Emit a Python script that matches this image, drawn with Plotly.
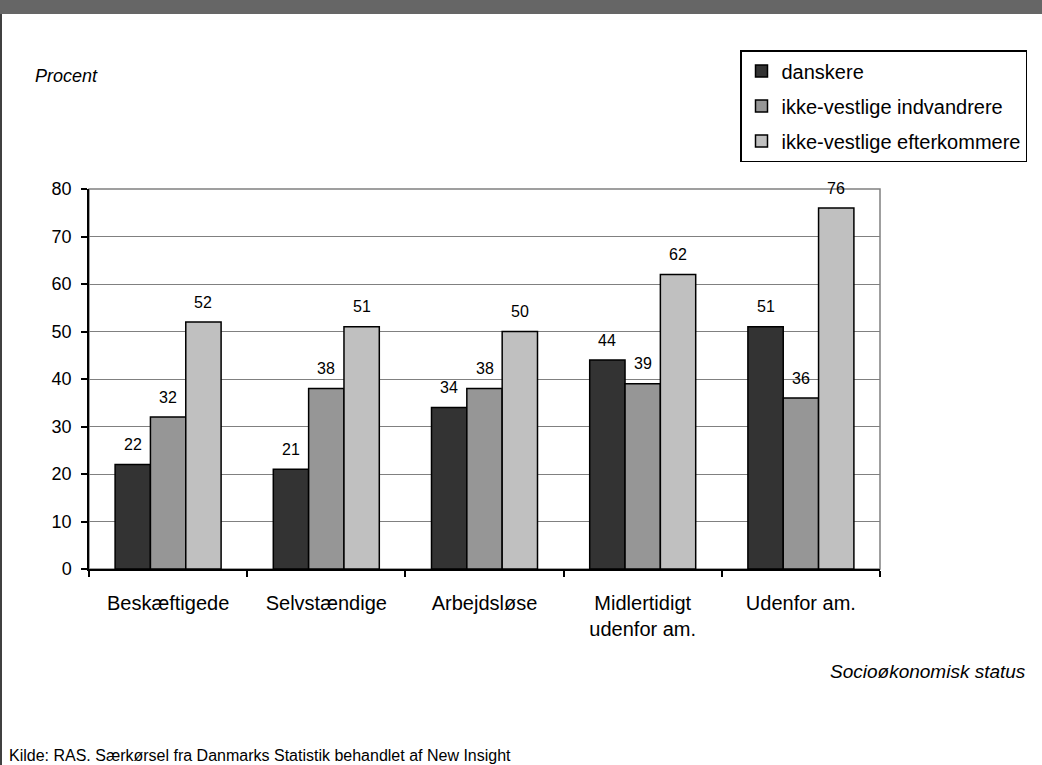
import plotly.graph_objects as go

categories = ["Beskæftigede", "Selvstændige", "Arbejdsløse", "Midlertidigt<br>udenfor am.", "Udenfor am."]
series_names = ["danskere", "ikke-vestlige indvandrere", "ikke-vestlige efterkommere"]
danskere = [22, 21, 34, 44, 51]
indvandrere = [32, 38, 38, 39, 36]
efterkommere = [52, 51, 50, 62, 76]
y_ticks = [0, 10, 20, 30, 40, 50, 60, 70, 80]

values = [danskere, indvandrere, efterkommere]
colors = ["#333333", "#969696", "#c0c0c0"]
FONT = "Liberation Sans, Arial, sans-serif"

fig = go.Figure()
for name, vals, col in zip(series_names, values, colors):
    fig.add_trace(go.Bar(
        x=categories, y=vals, name=name, legendgroup=name,
        marker=dict(color=col, line=dict(color="#000000", width=1.5)),
    ))

# plot geometry (pixels)
L, R, T, B = 89, 880, 189, 569
W, H = 1042, 765
PW, PH = R - L, B - T
cat_w = PW / len(categories)
bargap = 0.33
bar_px = cat_w * (1 - bargap) / 3


def px(xp):
    return (xp - L) / PW


def py(yp):
    return (B - yp) / PH


annotations = []
for k, vals in enumerate(values):
    for c, v in zip(categories, vals):
        annotations.append(dict(
            x=c, y=v, xref="x", yref="y", text=str(v), showarrow=False,
            xshift=(k - 1) * bar_px, yshift=20,
            font=dict(family=FONT, size=16, color="#000000"),
        ))

annotations += [
    dict(text="<i>Procent</i>", xref="paper", yref="paper",
         x=px(33), y=py(76), xanchor="left", yanchor="middle",
         showarrow=False, font=dict(family=FONT, size=18, color="#000000")),
    dict(text="<i>Socioøkonomisk status</i>", xref="paper", yref="paper",
         x=px(1028), y=py(671), xanchor="right", yanchor="middle",
         showarrow=False, font=dict(family=FONT, size=19, color="#000000")),
    dict(text="Kilde: RAS. Særkørsel fra Danmarks Statistik behandlet af New Insight",
         xref="paper", yref="paper",
         x=px(7), y=py(755), xanchor="left", yanchor="middle",
         showarrow=False, font=dict(family=FONT, size=16, color="#000000")),
]

shapes = [
    # top header band
    dict(type="rect", xref="paper", yref="paper",
         x0=px(0), x1=px(W), y0=py(14), y1=py(0),
         fillcolor="#666666", line=dict(width=0), layer="above"),
    # left page border
    dict(type="line", xref="paper", yref="paper",
         x0=px(1), x1=px(1), y0=py(14), y1=py(H),
         line=dict(color="#000000", width=1.5)),
    # plot frame in gray
    dict(type="rect", xref="paper", yref="paper", x0=0, x1=1, y0=0, y1=1,
         line=dict(color="#808080", width=1.5), layer="below"),
]

fig.update_layout(
    width=W, height=H, autosize=False,
    margin=dict(l=L, r=W - R, t=T, b=H - B, pad=0, autoexpand=False),
    paper_bgcolor="#ffffff", plot_bgcolor="#ffffff",
    barmode="group", bargap=bargap, bargroupgap=0,
    font=dict(family=FONT, size=16, color="#000000"),
    showlegend=True,
    legend=dict(
        xref="paper", yref="paper",
        x=px(740), y=py(50), xanchor="left", yanchor="top",
        bordercolor="#000000", borderwidth=1.5, bgcolor="#ffffff",
        font=dict(family=FONT, size=20, color="#000000"),
        traceorder="grouped", tracegroupgap=6,
        itemwidth=30,
    ),
    annotations=annotations,
    shapes=shapes,
)

fig.update_xaxes(
    type="category", showgrid=False, showline=True, linecolor="#000000", linewidth=1.5,
    ticks="outside", tickson="boundaries", ticklen=6, tickcolor="#000000", tickwidth=1.5,
    tickfont=dict(family=FONT, size=20, color="#000000"), range=[-0.5, 4.5],
    ticklabelstandoff=15,
)
fig.update_yaxes(
    range=[0, 80], tickvals=y_ticks, showgrid=True, gridcolor="#808080", gridwidth=1,
    showline=True, linecolor="#000000", linewidth=1.5,
    ticks="outside", ticklen=6, tickcolor="#000000", tickwidth=1.5,
    tickfont=dict(family=FONT, size=18, color="#000000"), zeroline=False,
    ticklabelstandoff=6,
)

fig.write_html(
    "out.html",
    config={"displayModeBar": False},
    post_script="document.body.style.margin='0';document.body.style.overflow='hidden';",
)
